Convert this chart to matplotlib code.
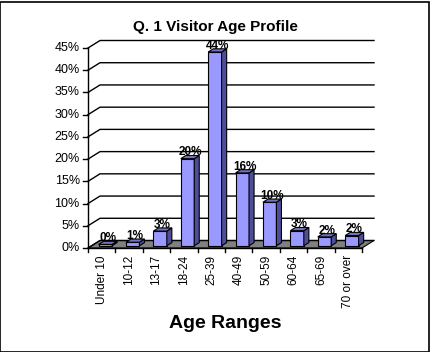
import matplotlib
matplotlib.use("Agg")
import matplotlib.pyplot as plt
from matplotlib.patches import Polygon, Rectangle

categories = ["Under 10", "10-12", "13-17", "18-24", "25-39",
              "40-49", "50-59", "60-64", "65-69", "70 or over"]
values = [0.3, 0.8, 3.3, 19.6, 43.6, 16.4, 9.8, 3.4, 2.0, 2.3]
yticks = [0, 5, 10, 15, 20, 25, 30, 35, 40, 45]

W, H = 431, 352
fig = plt.figure(figsize=(W / 100, H / 100), dpi=100)
fig.patch.set_facecolor("white")
fig.add_artist(Rectangle((0.5 / W, 0.5 / H), 1 - 2.5 / W, 1 - 2.5 / H,
                         transform=fig.transFigure, fill=False,
                         edgecolor="black", linewidth=1.2))

# front plane 88..362 px, 0% at y=248, 45% at y=48; depth offset (12, -7.5) px
px_cat = 274 / 10
px_pct = 200 / 45
dx = 12 / px_cat
dy = 7.5 / px_pct
ax = fig.add_axes([88 / W, (H - 248) / H, (374 - 88) / W, (248 - 40.5) / H])
ax.set_xlim(-0.5, 9.5 + dx)
ax.set_ylim(0, 45 + dy)
ax.axis("off")

font = "Liberation Sans"
n = len(categories)

# back wall gridlines + diagonals
for t in yticks:
    ax.plot([-0.5, -0.5 + dx, 9.5 + dx], [t, t + dy, t + dy],
            color="black", lw=1.0, clip_on=False)
    ax.plot([-0.5, -0.5 - 0.2], [t, t], color="black", lw=1.0, clip_on=False)
    ax.text(-0.5 - 0.3, t, f"{t}%", ha="right", va="center",
            fontsize=9, family=font)

# floor
ax.add_patch(Polygon([(-0.5, 0), (9.5, 0), (9.5 + dx, dy), (-0.5 + dx, dy)],
                     closed=True, facecolor="#808080", edgecolor="black",
                     lw=0.8, zorder=1))
ax.plot([-0.5, -0.5], [0, 45], color="black", lw=1.0, clip_on=False, zorder=2)
ax.plot([-0.5, 9.5], [0, 0], color="black", lw=1.0, clip_on=False, zorder=2)

# category ticks and labels
for i in range(n + 1):
    ax.plot([i - 0.5, i - 0.5], [0, -0.9], color="black", lw=1.0, clip_on=False)
for i, c in enumerate(categories):
    ax.text(i, -1.6, c, rotation=90, ha="center", va="top",
            fontsize=8.5, family=font)

# 3D bars
bw = 0.49
ox, oy = 0.3 * dx, 0.3 * dy
bdx, bdy = 0.42 * dx, 0.42 * dy
xs = [i + ox for i in range(n)]
ax.bar(xs, values, width=bw, bottom=oy, color="#9999FF",
       edgecolor="black", lw=0.8, zorder=3)
for x, v in zip(xs, values):
    l, r = x - bw / 2, x + bw / 2
    top = v + oy
    ax.add_patch(Polygon([(r, oy), (r + bdx, oy + bdy), (r + bdx, top + bdy), (r, top)],
                         closed=True, facecolor="#4D4D99", edgecolor="black",
                         lw=0.8, zorder=3))
    ax.add_patch(Polygon([(l, top), (r, top), (r + bdx, top + bdy), (l + bdx, top + bdy)],
                         closed=True, facecolor="#7373BF", edgecolor="black",
                         lw=0.8, zorder=3))
    ax.text(x + bdx / 2, top + bdy / 2 - 0.3, f"{round(v)}%", ha="center",
            va="bottom", fontsize=8.5, fontweight="bold", family=font, zorder=4)

fig.text(215 / W, 1 - 26.5 / H, "Q. 1 Visitor Age Profile", ha="center",
         va="center", fontsize=11, fontweight="bold", family=font)
fig.text(225 / W, 1 - 323 / H, "Age Ranges", ha="center", va="center",
         fontsize=14, fontweight="bold", family=font)

fig.savefig("out.png", dpi=100)
